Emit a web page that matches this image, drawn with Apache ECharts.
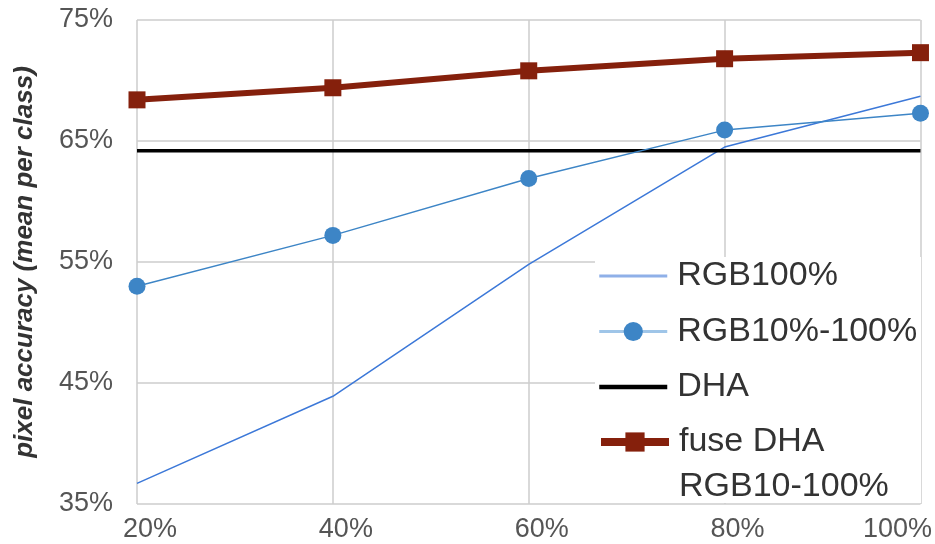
<!DOCTYPE html>
<html><head><meta charset="utf-8">
<script src="https://cdn.jsdelivr.net/npm/echarts@6/dist/echarts.min.js"></script>
<style>html,body{margin:0;padding:0;background:#fff}#c{width:935px;height:544px}</style>
</head><body><div id="c"></div>
<script>
const categories = ['20%', '40%', '60%', '80%', '100%'];
const rgb100 = [36.7, 43.9, 54.8, 64.5, 68.7];
const rgb10to100 = [53.0, 57.2, 61.9, 65.9, 67.3];
const dha = [64.2, 64.2, 64.2, 64.2, 64.2];
const fuse = [68.4, 69.4, 70.8, 71.8, 72.3];
const yTicks = [35, 45, 55, 65, 75];
const names = ['RGB100%', 'RGB10%-100%', 'DHA', 'fuse DHA\nRGB10-100%'];

const chart = echarts.init(document.getElementById('c'));
const font = 'Liberation Sans, Arial, sans-serif';
const narrow = 'Liberation Sans Narrow, Arial Narrow, Liberation Sans, sans-serif';
const last = categories.length - 1;
chart.setOption({
  animation: false,
  backgroundColor: '#fff',
  grid: { left: 137, right: 12, top: 20, bottom: 40 },
  xAxis: {
    type: 'category', data: categories, boundaryGap: false,
    axisLine: { show: false }, axisTick: { show: false },
    axisLabel: {
      color: '#555', fontSize: 27, fontFamily: narrow, margin: 12, showMaxLabel: true, showMinLabel: true,
      formatter: (v, i) => i === last ? '{e|' + v + '}' : '{n|' + v + '}',
      rich: {
        n: { color: '#555', fontSize: 27, fontFamily: narrow, padding: [0, 0, 0, 26] },
        e: { color: '#555', fontSize: 27, fontFamily: narrow, padding: [0, 46, 0, 0] }
      }
    },
    splitLine: { show: true, lineStyle: { color: '#ccc', width: 1.5 } }
  },
  yAxis: {
    type: 'value', min: yTicks[0], max: yTicks[yTicks.length - 1], interval: 10,
    name: 'pixel accuracy (mean per class)', nameLocation: 'middle', nameGap: 99,
    nameTextStyle: { fontSize: 26, fontWeight: 'bold', fontStyle: 'italic', color: '#333', fontFamily: font },
    axisLine: { show: false }, axisTick: { show: false },
    axisLabel: { color: '#555', fontSize: 27, fontFamily: narrow, margin: 24, formatter: v => v + '%' },
    splitLine: { show: true, lineStyle: { color: '#ccc', width: 1.5 } }
  },
  graphic: [
    { type: 'rect', z: 3, shape: { x: 595, y: 257, width: 326, height: 246 }, style: { fill: '#fff' } }
  ],
  legend: [
    {
      orient: 'vertical', left: 597, top: 252.5, z: 5, padding: 0,
      itemWidth: 68, itemHeight: 24, itemGap: 8.5, selectedMode: false,
      textStyle: { fontSize: 34, color: '#333', fontFamily: font, lineHeight: 47, padding: [0, 0, 0, 5] },
      data: [
        { name: names[0], lineStyle: { color: '#8fb0e8', width: 3 }, itemStyle: { opacity: 0 } },
        { name: names[1], lineStyle: { color: '#9fc5e8', width: 3 }, itemStyle: { color: '#3d85c6' } },
        { name: names[2], lineStyle: { color: '#000', width: 4.5 }, itemStyle: { opacity: 0 } }
      ]
    },
    {
      orient: 'vertical', left: 597, top: 374.5, z: 5, padding: 0,
      itemWidth: 68, itemHeight: 24, selectedMode: false,
      formatter: name => '\n' + name,
      textStyle: { fontSize: 34, color: '#333', fontFamily: font, lineHeight: 45, padding: [0, 0, 0, 5] },
      data: [
        { name: names[3], lineStyle: { color: '#85200c', width: 8 }, itemStyle: { color: '#85200c' } }
      ]
    }
  ],
  series: [
    { name: names[0], type: 'line', data: rgb100, symbol: 'none', z: 2,
      lineStyle: { color: '#3c78d8', width: 1.5 }, itemStyle: { color: '#3c78d8' } },
    { name: names[1], type: 'line', data: rgb10to100, symbol: 'circle', symbolSize: 17, z: 3,
      lineStyle: { color: '#3d85c6', width: 1.5 }, itemStyle: { color: '#3d85c6' } },
    { name: names[2], type: 'line', data: dha, symbol: 'none', z: 2,
      lineStyle: { color: '#000', width: 3.5 }, itemStyle: { color: '#000' } },
    { name: names[3], type: 'line', data: fuse, symbol: 'rect', symbolSize: 17, z: 4,
      lineStyle: { color: '#85200c', width: 6 }, itemStyle: { color: '#85200c' } }
  ]
});
</script></body></html>
